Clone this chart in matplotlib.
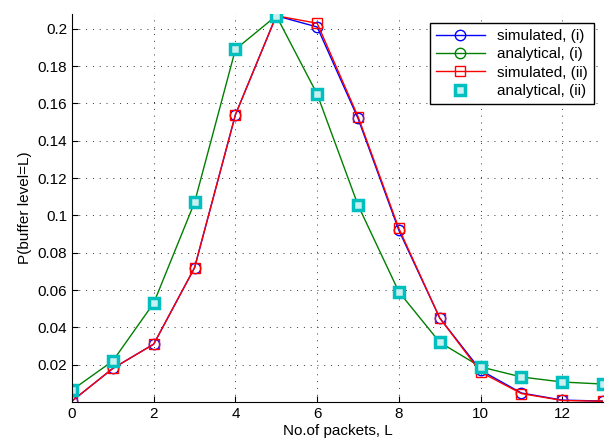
import numpy as np
import matplotlib
matplotlib.use('Agg')
import matplotlib.pyplot as plt

plt.rcParams['font.family'] = ['Liberation Sans', 'DejaVu Sans']

L = np.arange(0, 14)
sim_i = [0.0005, 0.018, 0.031, 0.072, 0.154, 0.207, 0.201, 0.152, 0.092, 0.045, 0.017, 0.0048, 0.001, 0.0005]
sim_ii = [0.0005, 0.018, 0.031, 0.072, 0.154, 0.207, 0.203, 0.153, 0.093, 0.045, 0.016, 0.0045, 0.0008, 0.0004]
ana = [0.0064, 0.022, 0.053, 0.107, 0.189, 0.207, 0.165, 0.1055, 0.059, 0.032, 0.0188, 0.0134, 0.0107, 0.0096]

fig = plt.figure(figsize=(6.05, 4.43), dpi=100)
ax = fig.add_axes([0.119, 0.0926, 0.878, 0.876])

ax.plot(L, sim_i, '-o', color='blue', lw=1, ms=7.5, mfc='none', mew=1, label='simulated, (i)')
ax.plot(L, ana, '-o', color='green', lw=1, ms=7.5, mfc='none', mew=1, label='analytical, (i)')
ax.plot(L, sim_ii, '-s', color='red', lw=1, ms=7, mfc='none', mew=1, label='simulated, (ii)')
ax.plot(L, ana, 's', color='#00bfbf', ms=7, mfc='#c8f0f0', mew=2.5, ls='none', label='analytical, (ii)')

ax.set_xlim(0, 13)
ax.set_ylim(0, 0.208)
ax.set_xticks(range(0, 13, 2))
ax.set_yticks(np.arange(0.02, 0.201, 0.02))
ax.set_yticklabels(['0.02', '0.04', '0.06', '0.08', '0.1', '0.12', '0.14', '0.16', '0.18', '0.2'])
ax.tick_params(direction='in', labelsize=11, length=4)
ax.grid(True, linestyle=(0, (1, 6)), color='#333333', lw=0.7)
ax.spines['top'].set_visible(False)
ax.spines['right'].set_visible(False)

ax.set_xlabel('No.of packets, L', fontsize=11, labelpad=2)
ax.set_ylabel('P(buffer level=L)', fontsize=11)

leg = ax.legend(loc='upper right', fontsize=11, fancybox=False, edgecolor='black',
                framealpha=1, borderaxespad=0.6, handlelength=3.2, labelspacing=0.28,
                borderpad=0.4)
leg.get_frame().set_linewidth(1)

fig.savefig('out.png', dpi=100)
